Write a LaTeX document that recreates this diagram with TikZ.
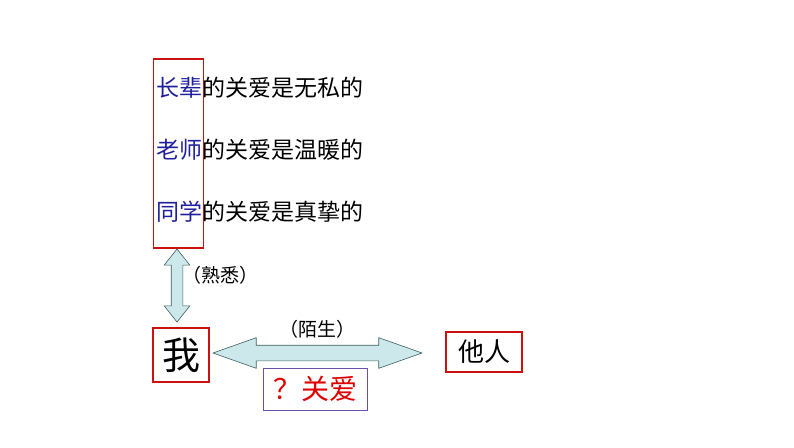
\documentclass[tikz,border=0pt]{standalone}
\usepackage{fontspec}
\setmainfont{Noto Sans CJK SC}
\usetikzlibrary{shapes.arrows, positioning}
\definecolor{kinblue}{HTML}{1F1F9E}
\definecolor{boxred}{HTML}{CC1111}
\definecolor{lovered}{HTML}{DD0000}
\definecolor{boxpurple}{HTML}{6B4FA8}
\definecolor{arrowfill}{HTML}{CCE8EA}
\definecolor{arrowline}{HTML}{3F5F60}

\begin{document}
\begin{tikzpicture}[x=1pt, y=-1pt,
    every node/.style={align=center, inner sep=0pt},
    careline/.style={anchor=west, font=\fontsize{23}{26}\selectfont},
    redbox/.style={draw=boxred, line width=1.3pt},
    blockarrow/.style={
        double arrow,
        draw=arrowline,
        fill=arrowfill,
        line width=0.6pt
    },
    note/.style={font=\fontsize{19}{22}\selectfont}]

    \useasboundingbox (0,0) rectangle (794,447);

    % The three kinds of care
    \node[careline] (elder) at (156,88) {\textcolor{kinblue}{长辈}的关爱是无私的};
    \node[careline, below=62pt of elder.west, anchor=west] (teacher) {\textcolor{kinblue}{老师}的关爱是温暖的};
    \node[careline, below=62pt of teacher.west, anchor=west] (classmate) {\textcolor{kinblue}{同学}的关爱是真挚的};

    % Box round the people we know
    \node[redbox, minimum width=50pt, minimum height=189pt] (kin) at (178.5,153.5) {};

    % Me and the others
    \node[redbox, minimum width=56pt, minimum height=54pt,
          font=\fontsize{38}{40}\selectfont] (me) at (181,355) {我};
    \node[redbox, minimum width=76pt, minimum height=40pt,
          font=\fontsize{26}{28}\selectfont] (others) at (484,352) {他人};

    % Arrows between them
    \node[blockarrow, rotate=90, minimum height=73pt, inner ysep=5.5pt,
          double arrow head extend=7pt, double arrow tip angle=77] (known) at (177,285.5) {};
    \node[note, anchor=west] (knownlabel) at (182,275) {（熟悉）};

    \node[blockarrow, minimum height=209pt, inner ysep=7.5pt,
          double arrow head extend=7.5pt, double arrow tip angle=39] (stranger) at (317.5,353) {};
    \node[note, above=6pt of stranger] (strangerlabel) {（陌生）};

    % The question below
    \node[draw=boxpurple, line width=0.9pt, minimum width=104pt, minimum height=42pt,
          text=lovered, font=\fontsize{28}{30}\selectfont] (love) at (315,389) {？关爱};

\end{tikzpicture}
\end{document}
